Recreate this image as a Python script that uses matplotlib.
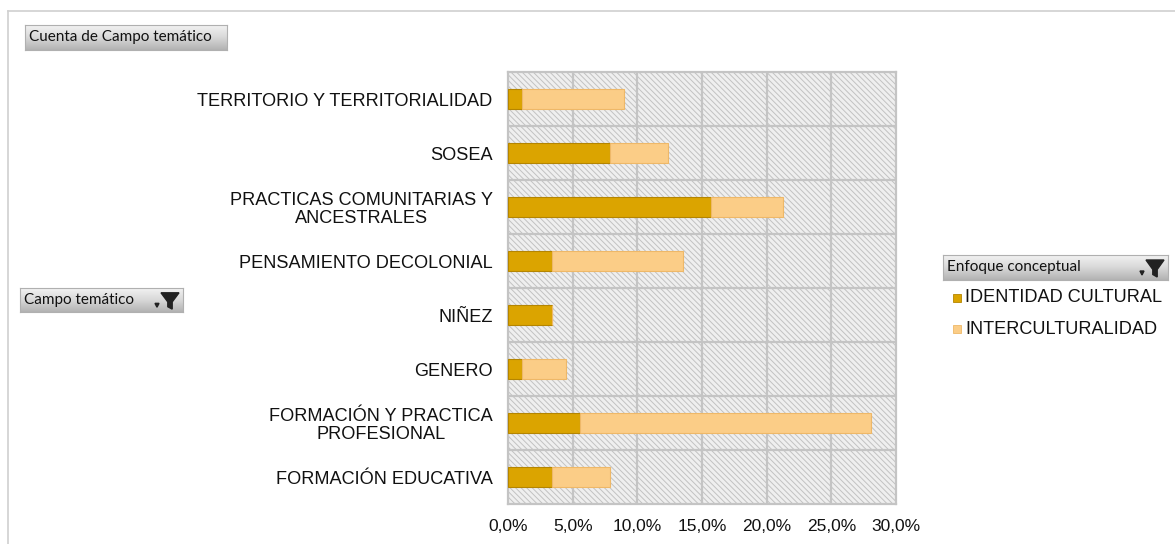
import numpy as np
import matplotlib
matplotlib.use("Agg")
import matplotlib.pyplot as plt
from matplotlib.patches import Rectangle, Polygon
from matplotlib.lines import Line2D

categories = ["TERRITORIO Y TERRITORIALIDAD", "SOSEA", "PRACTICAS COMUNITARIAS Y\nANCESTRALES",
              "PENSAMIENTO DECOLONIAL", "NIÑEZ", "GENERO", "FORMACIÓN Y PRACTICA\nPROFESIONAL",
              "FORMACIÓN EDUCATIVA"]
identidad = [1.1, 7.9, 15.7, 3.4, 3.4, 1.1, 5.6, 3.4]
intercult = [7.9, 4.5, 5.6, 10.1, 0.0, 3.4, 22.5, 4.5]
series_names = ["IDENTIDAD CULTURAL", "INTERCULTURALIDAD"]
xticks = [0, 5, 10, 15, 20, 25, 30]
xticklabels = ["0,0%", "5,0%", "10,0%", "15,0%", "20,0%", "25,0%", "30,0%"]

C_DARK = "#DBA400"
C_DARK_E = "#B58500"
C_LIGHT = "#FBCD87"
C_LIGHT_E = "#EEB868"

plt.rcParams['font.family'] = ['Liberation Sans', 'DejaVu Sans']
plt.rcParams['hatch.linewidth'] = 0.7

W, H = 1175, 544
fig = plt.figure(figsize=(W / 100, H / 100), dpi=100)
fig.patch.set_facecolor("white")

def fx(px):
    return px / W

def fy(py):
    return 1 - py / H

# outer frame
fig.add_artist(Line2D([fx(8), 1], [fy(11), fy(11)], color="#d0d0d0", lw=1.2))
fig.add_artist(Line2D([fx(8), fx(8)], [fy(11), 0], color="#d0d0d0", lw=1.2))

ax = fig.add_axes([fx(508), fy(504), fx(896) - fx(508), (504 - 72) / H])
n = len(categories)
y = np.arange(n)

bg = Rectangle((0, 0), 1, 1, transform=ax.transAxes, facecolor="#efefef",
               edgecolor="#c2c2c2", hatch="\\\\\\\\\\\\", lw=0, zorder=0)
ax.add_patch(bg)
ax.set_facecolor("white")

ax.barh(y, identidad, height=0.38, color=C_DARK, edgecolor=C_DARK_E, lw=0.8, zorder=3)
ax.barh(y, intercult, left=identidad, height=0.38, color=C_LIGHT, edgecolor=C_LIGHT_E, lw=0.8, zorder=3)

ax.set_xlim(0, 30)
ax.set_ylim(n - 0.5, -0.5)
ax.set_xticks(xticks)
ax.set_xticklabels(xticklabels, fontsize=12.5)
ax.set_yticks(y)
ax.set_yticklabels(categories, fontsize=13.1, multialignment="center", linespacing=1.05)
ax.tick_params(axis="both", length=0, colors="#111111")
ax.tick_params(axis="y", pad=11)
ax.tick_params(axis="x", pad=11)

for xv in xticks[1:-1]:
    ax.axvline(xv, color="#c4c4c4", lw=1.6, zorder=1)
for yv in np.arange(n - 1) + 0.5:
    ax.axhline(yv, color="#c4c4c4", lw=1.6, zorder=1)
for s in ax.spines.values():
    s.set_color("#c4c4c4")
    s.set_linewidth(1.6)

def button(x0, y0, x1, y1, text, funnel=False):
    bax = fig.add_axes([fx(x0), fy(y1), fx(x1) - fx(x0), (y1 - y0) / H])
    grad = np.linspace(0, 1, 50).reshape(-1, 1)
    bax.imshow(grad, aspect="auto", cmap=matplotlib.colors.LinearSegmentedColormap.from_list(
        "g", ["#f2f2f2", "#d8d8d8", "#b3b3b3"]), extent=[0, 1, 0, 1], origin="upper")
    bax.set_xlim(0, 1)
    bax.set_ylim(0, 1)
    bax.set_xticks([])
    bax.set_yticks([])
    for s in bax.spines.values():
        s.set_color("#b0b0b0")
        s.set_linewidth(0.8)
    bax.text(4 / (x1 - x0), 0.5, text, fontsize=11, family=["Lato", "DejaVu Sans"],
             va="center", ha="left", color="#111111")
    if funnel:
        wpx = x1 - x0
        cx = (wpx - 13) / wpx
        hw = 9 / wpx
        pts = [(cx - hw, 0.80), (cx + hw, 0.80), (cx + 2.2 / wpx, 0.42), (cx + 2.2 / wpx, 0.12),
               (cx - 2.2 / wpx, 0.22), (cx - 2.2 / wpx, 0.42)]
        bax.add_patch(Polygon(pts, closed=True, color="#222222"))
        dx = cx - hw - 4 / wpx
        bax.add_patch(Polygon([(dx - 2 / wpx, 0.36), (dx + 2 / wpx, 0.36), (dx, 0.2)],
                              closed=True, color="#222222"))

button(25, 25, 227, 50, "Cuenta de Campo temático")
button(20, 288, 183, 312, "Campo temático", funnel=True)
button(943, 255, 1168, 280, "Enfoque conceptual", funnel=True)

# legend
for i, (name, col, ec) in enumerate(zip(series_names, [C_DARK, C_LIGHT], [C_DARK_E, C_LIGHT_E])):
    ypx = 298 + i * 31
    fig.add_artist(Rectangle((fx(953), fy(ypx + 4)), fx(8) - fx(0), 8 / H, facecolor=col,
                             edgecolor=ec, lw=0.6))
    fig.text(fx(965), fy(ypx), name, fontsize=13.1, va="center", ha="left", color="#111111")

fig.savefig("out.png", dpi=100, facecolor="white")
